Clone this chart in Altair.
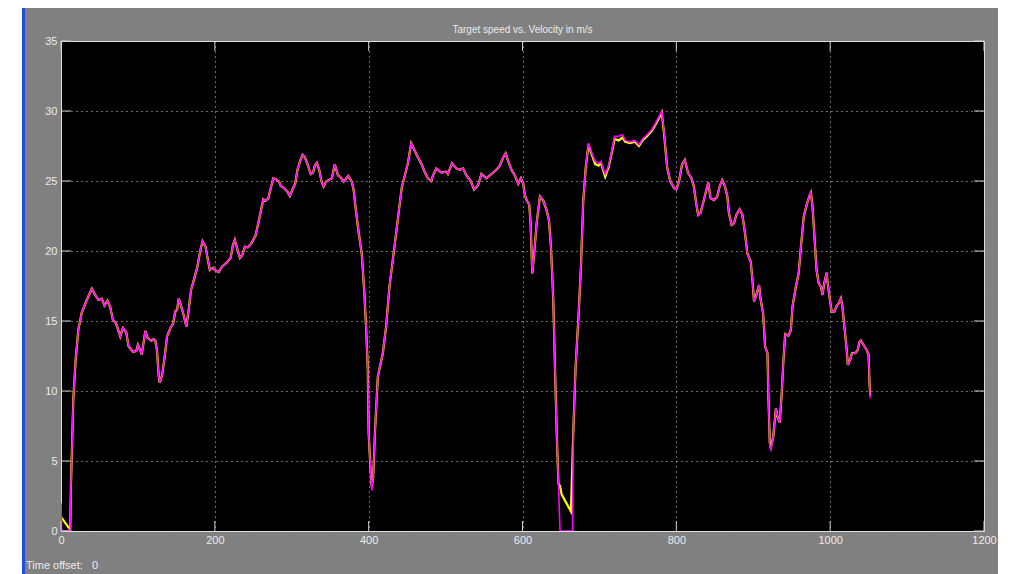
import altair as alt
import pandas as pd

# ---------------- data ----------------
vel_t = [0, 0.8, 12, 13, 16, 19, 22.6, 27, 33.5, 40, 44, 48.7, 53, 56.5, 60.4, 64, 67.4, 71.8, 77, 80.5,
         84.8, 87.8, 93.5, 97.8, 100, 103, 105, 109.6, 112.6, 117.4, 120.4, 122.6, 124.8, 127, 128.3, 131.4,
         134.8, 137.9, 142.2, 145.7, 148.7, 150.9, 153, 155, 159.6, 163, 166, 169, 172.6, 177, 181, 184,
         188, 191, 193.5, 198, 201, 205, 209.6, 216, 220.5, 223.5, 226, 229, 232.6, 235.7, 239, 243, 247.5,
         253, 256, 259.6, 263, 266, 269.6, 272.7, 276, 280.5, 283.5, 285.7, 290, 294.4, 297.5, 301, 304.4,
         307.5, 311, 314, 317, 320.5, 324.8, 327.8, 330, 332.7, 335.7, 338.8, 341.4, 344.4, 348.8, 352.2,
         356, 360, 363, 367.5, 373.5, 378, 380.5, 382.3, 386.6, 391, 394.4, 396.6, 398.8, 400, 402.2, 404,
         405.8, 408.3, 411.9, 418.4, 422.7, 427, 431.4, 435.7, 440, 443.2, 446.6, 451, 455.3, 459.6, 464,
         468.4, 472.7, 477, 481.4, 483.6, 488, 494.4, 501, 503, 508.4, 514, 518.4, 522.7, 527, 532.7, 537,
         542.3, 546.6, 553, 559.7, 566, 570.5, 575, 578, 581.5, 585.7, 590, 594.5, 598, 601, 603, 605.3,
         608.8, 610.5, 612, 612.7, 614.9, 618.4, 622.7, 627, 631.4, 634.4, 637, 640, 642.2, 644.5, 646.7,
         648.8, 665, 666, 669, 672.8, 676, 679, 682.3, 685.8, 690, 694.5, 699, 702, 705.3, 707.5, 712, 716,
         719.7, 725, 730, 733.6, 740, 746, 751.4, 756, 761.9, 768.4, 773.6, 777.5, 781, 784, 788, 792, 797,
         800, 803.6, 807.5, 811, 815.4, 819.7, 822.8, 825.8, 828.4, 831.4, 835.8, 841.5, 844.5, 848.9,
         853.2, 856.2, 859.7, 863.3, 866.3, 868.4, 871.9, 875, 878, 882.3, 885.8, 889.3, 892.3, 896.7, 899,
         901, 904, 907.6, 909.7, 912.8, 915.4, 918.5, 919.7, 921.5, 923, 926, 929.5, 931.5, 934.5, 937, 939,
         941.5, 945.8, 948.9, 951, 955.4, 959, 962, 965.6, 969.5, 972.8, 975, 977, 979.3, 982.3, 985, 988,
         990, 992.3, 995.4, 996.7, 999.7, 1002, 1005.4, 1008.4, 1011, 1014, 1016, 1018.5, 1021.5, 1023,
         1025.8, 1028.4, 1032.7, 1035.8, 1038, 1040, 1043.2, 1047.5, 1050, 1051, 1052]
vel_v = [2.0, 0, 0, 3.4, 9.4, 12.2, 14.4, 15.6, 16.5, 17.3, 16.9, 16.5, 16.6, 16.1, 16.45, 16.0, 15.1, 14.8, 13.9, 14.5,
         14.2, 13.2, 12.8, 12.85, 13.3, 12.9, 12.6, 14.3, 13.8, 13.6, 13.7, 13.6, 12.9, 11.1, 10.6, 11.1,
         12.45, 13.9, 14.5, 14.8, 15.7, 15.8, 16.6, 16.3, 15.4, 14.6, 15.8, 17.2, 17.9, 18.8, 20.0, 20.7,
         20.3, 19.36, 18.64, 18.8, 18.6, 18.5, 18.9, 19.2, 19.5, 20.4, 20.8, 20.2, 19.5, 19.7, 20.3, 20.26, 20.55,
         21.1, 21.86, 22.8, 23.7, 23.6, 23.76, 24.5, 25.2, 25.1, 24.95, 24.64, 24.5, 24.24, 23.93, 24.4, 24.8,
         25.8, 26.45, 26.86, 26.7, 26.2, 25.5, 25.6, 26.1, 26.3, 25.8, 24.95, 24.6, 24.95, 25.1, 25.2,
         26.2, 25.4, 25.3, 24.95, 25.36, 24.95, 24.36, 23.4, 21.5, 19.8, 17.0, 14.6, 11.7, 7.0, 4.6, 2.9,
         3.76, 7.2, 11.0, 12.7, 14.6, 17.45, 19.36, 21.26, 23.2, 24.6, 25.3, 26.26, 27.7, 27.2, 26.7,
         26.26, 25.66, 25.2, 25.0, 25.4, 25.9, 25.6, 25.66, 25.5, 26.26, 25.9, 25.8, 25.9, 25.4, 25.0, 24.4,
         24.7, 25.5, 25.2, 25.5, 25.8, 26.1, 26.7, 26.98, 26.4, 25.8, 25.4, 24.8, 25.2, 24.8, 24.0, 23.64,
         23.3, 22.0, 19.6, 18.4, 19.6, 22.0, 23.9, 23.6, 22.9, 22.2, 20.3, 16.5, 11.7, 7.0, 3.4,
         0, 0, 7.0, 11.7, 15.3, 18.9, 23.6, 26.0, 27.7, 26.98, 26.4, 26.26, 26.4, 25.8, 25.5, 26.1, 27.1,
         28.2, 28.2, 28.3, 27.9, 27.8, 27.9, 27.6, 28.0, 28.3, 28.7, 29.2, 29.6, 30.0, 28.5, 26.0, 25.0, 24.5,
         24.4, 25.0, 26.2, 26.5, 25.55, 25.2, 24.6, 23.4, 22.57, 22.7, 23.64, 24.9, 23.76, 23.64,
         23.9, 24.6, 25.07, 24.6, 23.9, 22.7, 21.86, 21.98, 22.57, 22.98, 22.6, 21.26, 19.83, 19.24, 17.9,
         16.4, 16.86, 17.57, 16.5, 15.55, 13.17, 12.7, 9.6, 6.0, 5.8, 6.74, 8.76, 8.17, 7.74, 9.83, 11.98,
         14.07, 13.95, 14.36, 16.0, 17.45, 18.4, 20.3, 22.45, 23.3, 23.9, 24.17, 23.2, 21.26, 18.64, 17.7, 17.45,
         16.86, 17.7, 18.45, 17.7, 16.5, 15.67, 15.67, 16.07, 16.26, 16.62, 16.0, 14.6, 12.93, 11.86,
         12.2, 12.7, 12.7, 12.93, 13.5, 13.6, 13.3, 12.93, 12.57, 10.8, 9.5]

tgt_t = [0, 6, 12, 13, 16, 19, 22.6, 27, 33.5, 40, 44, 48.7, 53, 56.5, 60.4, 64, 67.4, 71.8, 77, 80.5,
         84.8, 87.8, 93.5, 97.8, 100, 103, 105, 109.6, 112.6, 117.4, 120.4, 122.6, 124.8, 127, 128.3, 131.4,
         134.8, 137.9, 142.2, 145.7, 148.7, 150.9, 153, 155, 159.6, 163, 166, 169, 172.6, 177, 181, 184,
         188, 191, 193.5, 198, 201, 205, 209.6, 216, 220.5, 223.5, 226, 229, 232.6, 235.7, 239, 243, 247.5,
         253, 256, 259.6, 263, 266, 269.6, 272.7, 276, 280.5, 283.5, 285.7, 290, 294.4, 297.5, 301, 304.4,
         307.5, 311, 314, 317, 320.5, 324.8, 327.8, 330, 332.7, 335.7, 338.8, 341.4, 344.4, 348.8, 352.2,
         356, 360, 363, 367.5, 373.5, 378, 380.5, 382.3, 386.6, 391, 394.4, 396.6, 398.8, 400, 402.2, 404,
         405.8, 408.3, 411.9, 418.4, 422.7, 427, 431.4, 435.7, 440, 443.2, 446.6, 451, 455.3, 459.6, 464,
         468.4, 472.7, 477, 481.4, 483.6, 488, 494.4, 501, 503, 508.4, 514, 518.4, 522.7, 527, 532.7, 537,
         542.3, 546.6, 553, 559.7, 566, 570.5, 575, 578, 581.5, 585.7, 590, 594.5, 598, 601, 603, 605.3,
         608.8, 610.5, 612, 612.7, 614.9, 618.4, 622.7, 627, 631.4, 634.4, 637, 640, 642.2, 644.5, 646.7,
         648.8, 651, 663, 666, 669, 672.8, 676, 679, 682.3, 685.8, 690, 694.5, 699, 702, 705.3, 707.5, 712, 716,
         719.7, 725, 730, 733.6, 740, 746, 751.4, 756, 761.9, 768.4, 773.6, 777.5, 781, 784, 788, 792, 797,
         800, 803.6, 807.5, 811, 815.4, 819.7, 822.8, 825.8, 828.4, 831.4, 835.8, 841.5, 844.5, 848.9,
         853.2, 856.2, 859.7, 863.3, 866.3, 868.4, 871.9, 875, 878, 882.3, 885.8, 889.3, 892.3, 896.7, 899,
         901, 904, 907.6, 909.7, 912.8, 915.4, 918.5, 919.7, 921.5, 923, 926, 929.5, 931.5, 934.5, 937, 939,
         941.5, 945.8, 948.9, 951, 955.4, 959, 962, 965.6, 969.5, 972.8, 975, 977, 979.3, 982.3, 985, 988,
         990, 992.3, 995.4, 996.7, 999.7, 1002, 1005.4, 1008.4, 1011, 1014, 1016, 1018.5, 1021.5, 1023,
         1025.8, 1028.4, 1032.7, 1035.8, 1038, 1040, 1043.2, 1047.5, 1050, 1051, 1052]
tgt_v = [1.0, 0.55, 0.1, 3.4, 9.4, 12.2, 14.4, 15.6, 16.5, 17.3, 16.9, 16.5, 16.6, 16.1, 16.45, 16.0, 15.1, 14.8, 13.9, 14.5,
         14.2, 13.2, 12.8, 12.85, 13.3, 12.9, 12.6, 14.3, 13.8, 13.6, 13.7, 13.6, 12.9, 11.1, 10.6, 11.1,
         12.45, 13.9, 14.5, 14.8, 15.7, 15.8, 16.6, 16.3, 15.4, 14.6, 15.8, 17.2, 17.9, 18.8, 20.0, 20.7,
         20.3, 19.36, 18.64, 18.8, 18.6, 18.5, 18.9, 19.2, 19.5, 20.4, 20.8, 20.2, 19.5, 19.7, 20.3, 20.26, 20.55,
         21.1, 21.86, 22.8, 23.7, 23.6, 23.76, 24.5, 25.2, 25.1, 24.95, 24.64, 24.5, 24.24, 23.93, 24.4, 24.8,
         25.8, 26.45, 26.86, 26.7, 26.2, 25.5, 25.6, 26.1, 26.3, 25.8, 24.95, 24.6, 24.95, 25.1, 25.2,
         26.2, 25.4, 25.3, 24.95, 25.36, 24.95, 24.36, 23.4, 21.5, 19.8, 17.0, 14.6, 11.7, 7.0, 4.6, 3.2,
         3.76, 7.2, 11.0, 12.7, 14.6, 17.45, 19.36, 21.26, 23.2, 24.6, 25.3, 26.26, 27.7, 27.2, 26.7,
         26.26, 25.66, 25.2, 25.0, 25.4, 25.9, 25.6, 25.66, 25.5, 26.26, 25.9, 25.8, 25.9, 25.4, 25.0, 24.4,
         24.7, 25.5, 25.2, 25.5, 25.8, 26.1, 26.7, 26.98, 26.4, 25.8, 25.4, 24.8, 25.2, 24.8, 24.0, 23.64,
         23.3, 22.0, 19.6, 18.4, 19.6, 22.0, 23.9, 23.6, 22.9, 22.2, 20.3, 16.5, 11.7, 7.0, 3.4,
         3.2, 2.6, 1.4, 7.0, 11.7, 15.3, 18.9, 23.6, 26.0, 27.6, 26.9, 26.2, 26.1, 26.3, 25.7, 25.3, 26.0, 27.0,
         28.0, 27.9, 28.1, 27.8, 27.7, 27.8, 27.5, 27.9, 28.2, 28.6, 29.1, 29.5, 29.9, 28.4, 26.0, 25.0, 24.5,
         24.4, 25.0, 26.2, 26.5, 25.55, 25.2, 24.6, 23.4, 22.57, 22.7, 23.64, 24.9, 23.76, 23.64,
         23.9, 24.6, 25.07, 24.6, 23.9, 22.7, 21.86, 21.98, 22.57, 22.98, 22.6, 21.26, 19.83, 19.24, 17.9,
         16.4, 16.86, 17.57, 16.5, 15.55, 13.17, 12.7, 9.6, 6.3, 6.0, 6.74, 8.76, 8.17, 7.74, 9.83, 11.98,
         14.07, 13.95, 14.36, 16.0, 17.45, 18.4, 20.3, 22.45, 23.3, 23.9, 24.17, 23.2, 21.26, 18.64, 17.7, 17.45,
         16.86, 17.7, 18.45, 17.7, 16.5, 15.67, 15.67, 16.07, 16.26, 16.62, 16.0, 14.6, 12.93, 11.86,
         12.2, 12.7, 12.7, 12.93, 13.5, 13.6, 13.3, 12.93, 12.57, 10.8, 9.7]

x_ticks = [0, 200, 400, 600, 800, 1000, 1200]
y_ticks = [0, 5, 10, 15, 20, 25, 30, 35]
title_text = "Target speed vs. Velocity in m/s"
footer_text = "Time offset:\u00a0\u00a0 0"

# ---------------- chart ----------------
W, H = 923, 490
FONT = "Liberation Sans"
LABEL = "#ececec"

vel = pd.DataFrame({"t": vel_t, "v": vel_v})
tgt = pd.DataFrame({"t": tgt_t, "v": tgt_v})

xs = alt.Scale(domain=[0, 1200], nice=False, zero=False)
ys = alt.Scale(domain=[0, 35], nice=False, zero=False)

x_axis = alt.Axis(values=x_ticks, grid=True, gridColor="#d8d8d8", gridDash=[1, 4], gridWidth=1,
                  domain=False, ticks=False, labelColor=LABEL, labelFont=FONT, labelFontSize=11,
                  labelPadding=3, labelFlush=False, title=None, format="d")
y_axis = alt.Axis(values=y_ticks, grid=True, gridColor="#d8d8d8", gridDash=[1, 4], gridWidth=1,
                  domain=False, ticks=False, labelColor=LABEL, labelFont=FONT, labelFontSize=11,
                  labelPadding=4, labelFlush=False, title=None, format="d")

target_line = alt.Chart(tgt).mark_line(color="#ffff00", strokeWidth=2.2, clip=True).encode(
    x=alt.X("t:Q", scale=xs, axis=x_axis),
    y=alt.Y("v:Q", scale=ys, axis=y_axis),
    order="t:Q",
)
vel_line = alt.Chart(vel).mark_line(color="#ff00ff", strokeWidth=1.6, clip=True).encode(
    x=alt.X("t:Q", scale=xs),
    y=alt.Y("v:Q", scale=ys),
    order="t:Q",
)

xt = pd.DataFrame({"t": x_ticks})
yt = pd.DataFrame({"v": y_ticks})
tick_col = "#d0d0d0"
bottom_ticks = alt.Chart(xt).mark_rule(color=tick_col, strokeWidth=1).encode(
    x=alt.X("t:Q", scale=xs), y=alt.value(H), y2=alt.value(H - 10))
top_ticks = alt.Chart(xt).mark_rule(color=tick_col, strokeWidth=1).encode(
    x=alt.X("t:Q", scale=xs), y=alt.value(0), y2=alt.value(10))
left_ticks = alt.Chart(yt).mark_rule(color=tick_col, strokeWidth=1).encode(
    y=alt.Y("v:Q", scale=ys), x=alt.value(0), x2=alt.value(10))
right_ticks = alt.Chart(yt).mark_rule(color=tick_col, strokeWidth=1).encode(
    y=alt.Y("v:Q", scale=ys), x=alt.value(W - 10), x2=alt.value(W))

title = alt.Chart(pd.DataFrame({"label": [title_text]})).mark_text(
    align="center", baseline="middle", color=LABEL, font=FONT, fontSize=10).encode(
    x=alt.value(W / 2), y=alt.value(-11), text="label:N")

footer = alt.Chart(pd.DataFrame({"label": [footer_text]})).mark_text(
    align="left", baseline="middle", color=LABEL, font=FONT, fontSize=11).encode(
    x=alt.value(-35), y=alt.value(H + 35), text="label:N")

white_strip = alt.Chart(pd.DataFrame({"k": [0]})).mark_rect(color="#ffffff").encode(
    x=alt.value(-53), x2=alt.value(-39), y=alt.value(-33), y2=alt.value(H + 43))
blue_strip = alt.Chart(pd.DataFrame({"k": [0]})).mark_rect(color="#1f4fe0").encode(
    x=alt.value(-39), x2=alt.value(-36), y=alt.value(-33), y2=alt.value(H + 43))

chart = alt.layer(
    target_line, vel_line, bottom_ticks, top_ticks, left_ticks, right_ticks,
    title, footer, white_strip, blue_strip,
).properties(
    width=W, height=H,
    padding={"left": 53, "top": 33, "right": 14, "bottom": 43},
    autosize=alt.AutoSizeParams(type="none"),
).configure(
    background="#808080",
).configure_view(
    fill="#000000", stroke="#e0e0e0", strokeWidth=1,
)

chart.save("out.html", embed_options={"renderer": "svg", "actions": False})
